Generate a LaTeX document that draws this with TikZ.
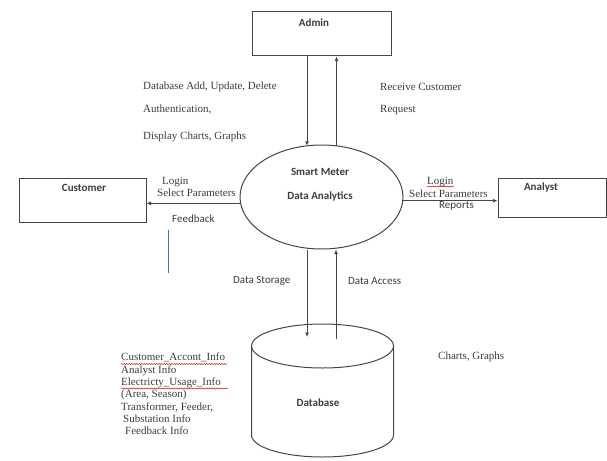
\documentclass[tikz,border=0pt]{standalone}
\usepackage{fontspec}
\setmainfont{Liberation Serif}
\newfontfamily\sansf{Carlito}
\usetikzlibrary{shapes.geometric,arrows.meta,decorations.pathmorphing}
\definecolor{lncol}{RGB}{70,70,70}
\definecolor{txtcol}{RGB}{60,60,60}
\definecolor{bluebar}{RGB}{68,114,196}
\begin{document}
\begin{tikzpicture}[x=1pt,y=-1pt,
  every node/.style={inner sep=0pt},
  box/.style={draw=lncol, line width=1pt, rectangle},
  arr/.style={draw=lncol, line width=0.9pt, -{Latex[length=4.5pt,width=4pt]}},
  ln/.style={draw=lncol, line width=1pt},
  lbl/.style={font=\fontsize{11}{12}\selectfont, text=txtcol},
  slbl/.style={font=\sansf\fontsize{11}{12}\selectfont, text=txtcol},
  ttl/.style={font=\sansf\bfseries\fontsize{11}{12}\selectfont, text=txtcol},
  squig/.style={draw=red!80!black, line width=0.45pt, decorate, decoration={snake, amplitude=0.5pt, segment length=2.5pt}}]
\useasboundingbox (0,0) rectangle (607,460);

% boxes
\node[box, minimum width=139pt, minimum height=44pt] (admin) at (321.5,34) {};
\node[box, minimum width=127pt, minimum height=44pt] (customer) at (82.5,200) {};
\node[box, minimum width=108pt, minimum height=39pt] (analyst) at (552,197.5) {};
\node[draw=lncol, line width=1pt, ellipse, minimum width=163pt, minimum height=104pt] (ell) at (321.5,197) {};

% titles
\node[ttl] (admint) at (314,23) {Admin};
\node[ttl] (custt) at (84,188) {Customer};
\node[ttl] (anat) at (541,188) {Analyst};
\node[ttl] (smt) at (320,172) {Smart Meter};
\node[ttl] (dat) at (320,196) {Data Analytics};

% database cylinder
\draw[ln] (251.5,346) -- (251.5,435) arc[start angle=180, end angle=0, x radius=71, y radius=22] -- (393.5,346);
\draw[ln] (322.5,346) ellipse [x radius=71, y radius=22];
\node[ttl] (dbt) at (318,403) {Database};

% connector coordinates
\coordinate (dd) at (307,145.8);
\coordinate (ru) at (336.5,146);
\coordinate (cL) at (240.5,203.3);
\coordinate (cR) at (402.8,200.7);
\coordinate (dsS) at (307,337);
\coordinate (daS) at (336,339);

% connectors
\draw[arr] (dd |- admin.south) -- (dd);
\draw[arr] (ru) -- (ru |- admin.south);
\draw[arr] (cL) -- (cL -| customer.east);
\draw[arr] (cR) -- (cR -| analyst.west);
\draw[arr] (dsS |- ell.south) -- (dsS);
\draw[arr] (daS) -- (daS |- ell.south);

% labels admin
\node[lbl, anchor=west] (l1) at (143,87) {Database Add, Update, Delete};
\node[lbl, anchor=west] (l2) at (143,110) {Authentication,};
\node[lbl, anchor=west] (l3) at (143,137) {Display Charts, Graphs};
\node[lbl, anchor=west] (l4) at (380,87) {Receive Customer};
\node[lbl, anchor=west] (l5) at (380,110) {Request};

% labels customer
\node[lbl, anchor=west] (l6) at (162,182) {Login};
\node[lbl, anchor=west] (l7) at (157,193) {Select Parameters};
\node[slbl, anchor=west] (l8) at (172,219) {Feedback};
\draw[draw=bluebar, line width=1.5pt] (168.3,230) -- (168.3,273);

% labels analyst
\node[lbl, anchor=west] (l9) at (427,182) {Login};
\node[lbl, anchor=west] (l10) at (409,194) {Select Parameters};
\node[slbl, anchor=west] (l11) at (439,206) {Reports};
\draw[squig] (427,186.5) -- (454,186.5);

% labels database
\node[slbl, anchor=west] (l12) at (233,281) {Data Storage};
\node[slbl, anchor=west] (l13) at (348,281) {Data Access};
\node[lbl, anchor=west] (l14) at (438,357) {Charts, Graphs};

\node[lbl, anchor=north west, align=left, font=\fontsize{11}{12.3}\selectfont] (list) at (121,353) {Customer\_Accont\_Info\\Analyst Info\\Electricty\_Usage\_Info\\(Area, Season)\\Transformer, Feeder,\\\hspace{2pt}Substation Info\\\hspace{4pt}Feedback Info};
\draw[squig] (121,364) -- (227,364);
\draw[squig] (121,388.5) -- (228,388.5);
\end{tikzpicture}
\end{document}
